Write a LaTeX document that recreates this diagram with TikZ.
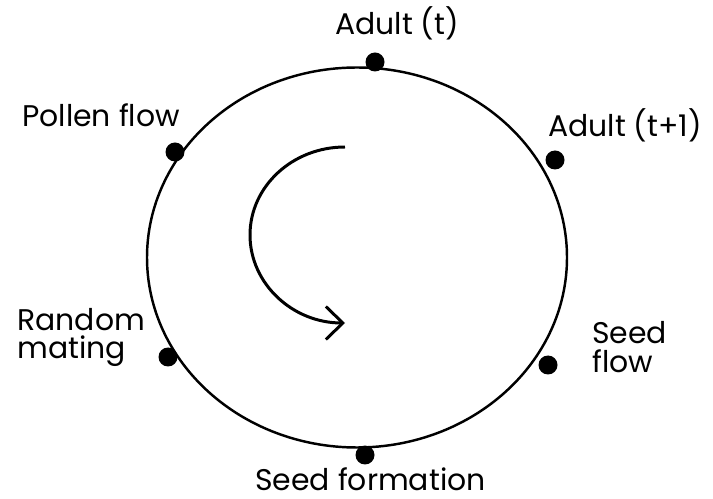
\documentclass[tikz,border=0pt]{standalone}
\usepackage{fontspec}
\setmainfont{Poppins}
\usetikzlibrary{arrows.meta}

\begin{document}
\begin{tikzpicture}[
  x=0.02cm, y=-0.02cm,
  font=\fontsize{17}{16}\selectfont,
  stage/.style={circle, fill=black, inner sep=0pt, minimum size=0.38cm},
  lbl/.style={inner sep=0pt, anchor=base west, align=left},
  ring/.style={line width=1.4pt},
  turn/.style={line width=1.7pt,
               -{Straight Barb[length=3.4mm, width=6.6mm, line width=1.7pt]}},
]
  \useasboundingbox (0,0) rectangle (713,499);

  \def\cx{357}  % centre of the cycle
  \def\cy{257.5}

  % --- Cycle ---
  \draw[ring] (\cx,\cy) ellipse [x radius=210, y radius=190];

  % --- Stages on the cycle ---
  \node[stage] (adult)  at (375,62)  {};
  \node[stage] (adultN) at (555,160) {};
  \node[stage] (pollen) at (175,152) {};
  \node[stage] (mating) at (168,357) {};
  \node[stage] (sflow)  at (548,365) {};
  \node[stage] (sform)  at (365,455) {};

  % --- Labels (base = last line) ---
  \node[lbl] (adultL)  at (335,35)  {Adult (t)};
  \node[lbl] (adultNL) at (548,137) {Adult (t+1)};
  \node[lbl] (pollenL) at (22,127)  {Pollen flow};
  \node[lbl] (matingL) at (17,359)  {Random\\mating};
  \node[lbl, font=\fontsize{17}{17}\selectfont] (sflowL) at (592,373) {Seed\\flow};
  \node[lbl] (sformL)  at (255,490) {Seed formation};

  % --- Direction of the cycle ---
  \coordinate (turnA) at (345,147);
  \draw[turn] (turnA) arc[start angle=270, end angle=90,
                          x radius=95, y radius=88];

\end{tikzpicture}
\end{document}
